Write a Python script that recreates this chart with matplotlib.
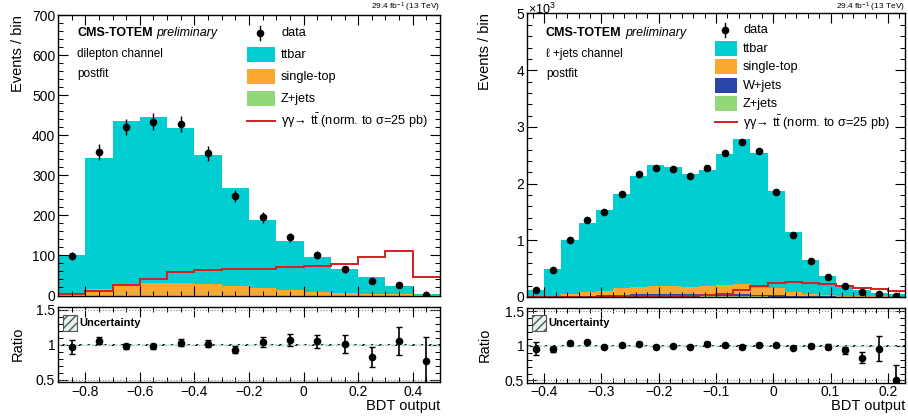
import numpy as np
import matplotlib
matplotlib.use("Agg")
import matplotlib.pyplot as plt
from matplotlib.ticker import MultipleLocator, FuncFormatter
from matplotlib.patches import Rectangle
from matplotlib.lines import Line2D

plt.rcParams['font.family'] = ['Liberation Sans', 'DejaVu Sans']
plt.rcParams['mathtext.fontset'] = 'custom'
plt.rcParams['mathtext.rm'] = 'Liberation Sans'
plt.rcParams['mathtext.it'] = 'Liberation Sans:italic'
plt.rcParams['mathtext.bf'] = 'Liberation Sans:bold'

# ---------------- dilepton channel (left) ----------------
edges_l = np.round(np.linspace(-0.9, 0.5, 15), 3)
ttbar_l = [96, 325, 407, 415, 387, 322, 245, 170, 123, 87, 60, 42, 20, 2]
singletop_l = [3, 16, 28, 29, 29, 27, 23, 18, 13, 8, 5, 3, 2, 1]
zjets_l = [1, 1, 1, 1, 1, 1, 1, 1, 1, 1, 0.5, 0.5, 0.5, 0.5]
signal_l = [3, 11, 27, 42, 58, 63, 67, 67, 70, 73, 78, 96, 111, 46]
data_l = [98, 358, 421, 434, 428, 355, 248, 195, 145, 101, 65, 35, 25, 2]
ratio_l = [0.97, 1.06, 0.98, 0.98, 1.03, 1.02, 0.93, 1.04, 1.07, 1.05, 1.01, 0.83, 1.05, 0.77]
ratio_err_l = [0.10, 0.05, 0.04, 0.04, 0.05, 0.05, 0.05, 0.07, 0.08, 0.09, 0.13, 0.14, 0.20, 0.35]

# ---------------- l+jets channel (right) ----------------
edges_r = np.round(np.linspace(-0.43, 0.23, 23), 3)
ttbar_r = [120, 475, 950, 1225, 1430, 1673, 1950, 2133, 2103, 1991, 2039, 2310,
           2559, 2375, 1720, 1057, 597, 335, 184, 103, 60, 42]
singletop_r = [3, 13, 33, 56, 79, 112, 133, 138, 136, 133, 145, 167,
               190, 126, 118, 68, 35, 20, 15, 10, 6, 4]
wjets_r = [4, 8, 12, 18, 24, 30, 38, 42, 44, 42, 40, 38, 35, 30, 24, 16, 10, 6, 4, 3, 2, 1]
zjets_r = [3, 4, 5, 6, 7, 8, 9, 10, 10, 10, 10, 10, 10, 9, 8, 6, 5, 4, 3, 2, 2, 1]
signal_r = [2, 3, 4, 6, 8, 10, 12, 15, 18, 22, 30, 55, 125, 190, 245, 258,
            248, 232, 195, 165, 135, 106]
data_r = [118, 471, 1012, 1353, 1500, 1811, 2164, 2282, 2258, 2129, 2282, 2547,
          2734, 2576, 1852, 1088, 635, 353, 189, 88, 48, 12]
ratio_r = [0.96, 0.95, 1.04, 1.05, 0.99, 1.01, 1.03, 0.99, 1.00, 0.99, 1.03, 1.01,
           0.99, 1.02, 1.01, 0.97, 1.00, 0.99, 0.94, 0.83, 0.96, 0.50]
ratio_err_r = [0.09, 0.04, 0.02, 0.02, 0.02, 0.02, 0.02, 0.02, 0.02, 0.02, 0.02, 0.02,
               0.02, 0.02, 0.02, 0.02, 0.03, 0.04, 0.05, 0.08, 0.18, 0.22]

C_TT = '#00ced1'
C_ST = '#f9a830'
C_W = '#2a47a8'
C_Z = '#94d67a'
C_SIG = '#d42020'

W, H = 908, 419
fig = plt.figure(figsize=(W / 100, H / 100), dpi=100)


def fx(x):
    return x / W


def fy(y):
    return 1 - y / H


def add_ax(x0, x1, ytop, ybot):
    return fig.add_axes([fx(x0), fy(ybot), (x1 - x0) / W, (ybot - ytop) / H])


def style(ax):
    ax.tick_params(which='both', direction='in', top=True, right=True,
                   labelsize=10, pad=2)
    ax.tick_params(which='major', length=7, width=0.8)
    ax.tick_params(which='minor', length=3.5, width=0.7)
    for s in ax.spines.values():
        s.set_linewidth(1.0)


def draw_stack(ax, edges, comps):
    base = np.zeros(len(edges) - 1)
    for vals, col in comps:
        top = base + np.asarray(vals, float)
        ax.stairs(top, edges, baseline=base, fill=True, color=col, lw=0)
        base = top


def draw_main(ax, edges, comps, signal, data):
    centers = 0.5 * (edges[1:] + edges[:-1])
    draw_stack(ax, edges, comps)
    ax.stairs(signal, edges, baseline=None, color=C_SIG, lw=1.4)
    d = np.asarray(data, float)
    ax.errorbar(centers, d, yerr=np.sqrt(d), fmt='o', color='k', ms=4.5,
                elinewidth=1.0, capsize=0)
    ax.set_xlim(edges[0], edges[-1])
    ax.tick_params(labelbottom=False)
    style(ax)


def minus_fmt(v, p):
    return f"{v:g}".replace('-', '\u2212')


def draw_ratio(ax, edges, ratio, err, xmaj, xmin):
    centers = 0.5 * (edges[1:] + edges[:-1])
    band = np.full(len(edges) - 1, 0.012)
    ax.stairs(1 + band, edges, baseline=1 - band, fill=True, color='#dff1ee',
              hatch='////', lw=0)
    ax.axhline(1.0, color='#9fcfc4', ls=(0, (2, 2)), lw=1.0)
    ax.axhline(1.5, color='#888888', ls=':', lw=0.8)
    ax.axhline(0.5, color='#888888', ls=':', lw=0.8)
    ax.errorbar(centers, ratio, yerr=err, fmt='o', color='k', ms=4.5,
                elinewidth=1.2, capsize=2.0, capthick=1.0)
    ax.set_xlim(edges[0], edges[-1])
    ax.set_ylim(0.47, 1.55)
    ax.yaxis.set_major_locator(MultipleLocator(0.5))
    ax.yaxis.set_minor_locator(MultipleLocator(0.1))
    ax.yaxis.set_major_formatter(FuncFormatter(lambda v, p: f"{v:g}"))
    ax.xaxis.set_major_locator(MultipleLocator(xmaj))
    ax.xaxis.set_minor_locator(MultipleLocator(xmin))
    ax.xaxis.set_major_formatter(FuncFormatter(minus_fmt))
    style(ax)


# ---------- left panel ----------
axL = add_ax(58, 440, 15, 295.5)
axLr = add_ax(58, 440, 306.5, 382)
draw_main(axL, edges_l, [(zjets_l, C_Z), (singletop_l, C_ST), (ttbar_l, C_TT)],
          signal_l, data_l)
axL.set_ylim(0, 700)
axL.yaxis.set_major_locator(MultipleLocator(100))
axL.yaxis.set_minor_locator(MultipleLocator(20))
axL.xaxis.set_major_locator(MultipleLocator(0.2))
axL.xaxis.set_minor_locator(MultipleLocator(0.05))
draw_ratio(axLr, edges_l, ratio_l, ratio_err_l, 0.2, 0.05)

# ---------- right panel ----------
axR = add_ax(527, 905, 13.5, 297)
axRr = add_ax(527, 905, 308, 382.5)
draw_main(axR, edges_r, [(zjets_r, C_Z), (wjets_r, C_W), (singletop_r, C_ST),
                         (ttbar_r, C_TT)], signal_r, data_r)
axR.set_ylim(0, 5000)
axR.yaxis.set_major_locator(MultipleLocator(1000))
axR.yaxis.set_minor_locator(MultipleLocator(200))
axR.yaxis.set_major_formatter(FuncFormatter(lambda v, p: f"{v / 1000:g}"))
axR.xaxis.set_major_locator(MultipleLocator(0.1))
axR.xaxis.set_minor_locator(MultipleLocator(0.02))
draw_ratio(axRr, edges_r, ratio_r, ratio_err_r, 0.1, 0.02)


# ---------- texts ----------
def ftext(x, y, s, **kw):
    return fig.text(fx(x), fy(y), s, **kw)


for (ax, x0, x1, ytop, ratio_y, ylab_x, chan) in [
        (axL, 58, 440, 15, 344, 18, "dilepton channel"),
        (axR, 527, 905, 13.5, 345, 485, "\u2113 +jets channel")]:
    ftext(x1, 7.5, r"29.4 fb$^{-1}$ (13 TeV)", fontsize=6, ha='right', va='center')
    ftext(ylab_x, ytop, "Events / bin", fontsize=10.5, rotation=90, ha='center', va='top')
    ftext(ylab_x, ratio_y, "Ratio", fontsize=10.5, rotation=90, ha='center', va='center')
    ftext(x1, 413, "BDT output", fontsize=10.5, ha='right', va='bottom')
    tb = ftext(x0 + 19, 33, "CMS-TOTEM", fontsize=9, fontweight='bold', ha='left',
               va='center')
    ax.annotate("preliminary", xy=(1, 0.5), xycoords=tb, xytext=(3, 0),
                textcoords='offset points', fontsize=9, style='italic',
                ha='left', va='center', annotation_clip=False)
    ftext(x0 + 19, 54, chan, fontsize=8.5, ha='left', va='center')
    ftext(x0 + 19, 74, "postfit", fontsize=8.5, ha='left', va='center')
    # ratio legend
    fig.add_artist(Rectangle((fx(x0 + 5), fy(331)), 14 / W, 16 / H, transform=fig.transFigure,
                             facecolor='#e3f3ef', edgecolor='#555555', lw=0.8, hatch='////'))
    ftext(x0 + 21, 323, "Uncertainty", fontsize=8, fontweight='bold', ha='left', va='center')

ftext(528, 9, r"$\times10^{3}$", fontsize=9, ha='left', va='center')


def legend(x_box, x_txt, y0, dy, entries):
    y = y0
    for kind, col, label in entries:
        if kind == 'data':
            xm = (x_box + x_txt - 6) / 2 - 1
            fig.add_artist(Line2D([fx(xm)] * 2, [fy(y - 7), fy(y + 7)], color='k', lw=1,
                                  transform=fig.transFigure))
            fig.add_artist(Line2D([fx(xm)], [fy(y)], marker='o',
                                  color='k', ms=4.5, transform=fig.transFigure))
        elif kind == 'box':
            fig.add_artist(Rectangle((fx(x_box), fy(y + 7.5)), (x_txt - 6 - x_box) / W,
                                     15 / H, transform=fig.transFigure,
                                     facecolor=col, lw=0))
        else:
            fig.add_artist(Line2D([fx(x_box), fx(x_txt - 6)], [fy(y), fy(y)],
                                  color=col, lw=1.4, transform=fig.transFigure))
        ftext(x_txt, y, label, fontsize=9.2, ha='left', va='center')
        y += dy


sig_label = "\u03b3\u03b3\u2192 t$\\bar{\\mathrm{t}}$ (norm. to \u03c3=25 pb)"
legend(247, 281, 33, 22, [('data', 'k', 'data'), ('box', C_TT, 'ttbar'),
                          ('box', C_ST, 'single-top'), ('box', C_Z, 'Z+jets'),
                          ('line', C_SIG, sig_label)])
legend(715, 743, 30, 18.5, [('data', 'k', 'data'), ('box', C_TT, 'ttbar'),
                            ('box', C_ST, 'single-top'), ('box', C_W, 'W+jets'),
                            ('box', C_Z, 'Z+jets'), ('line', C_SIG, sig_label)])

fig.savefig("out.png", dpi=100)
